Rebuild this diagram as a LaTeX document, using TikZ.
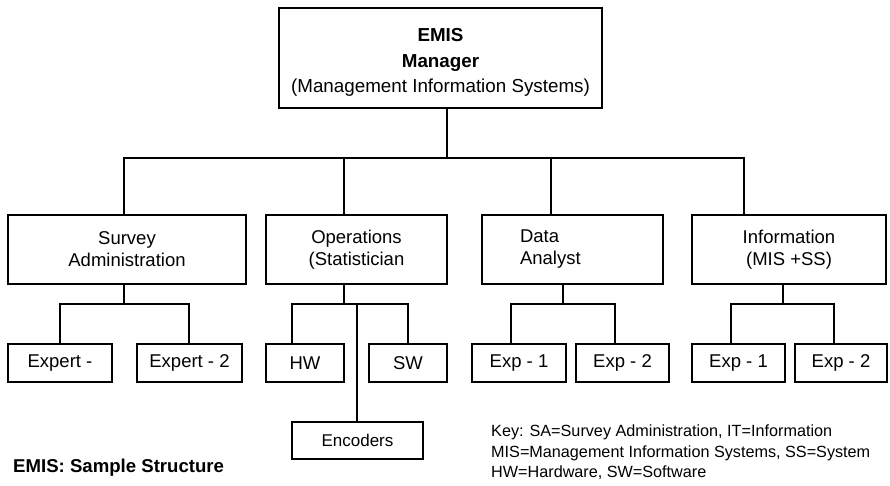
\documentclass[tikz,border=0pt]{standalone}
\usepackage{fontspec}
\setmainfont{Liberation Sans}

\begin{document}
\begin{tikzpicture}[x=1pt,y=-1pt,
    box/.style={draw, line width=1.2pt, inner sep=0pt, align=center,
                font=\fontsize{18.5}{22}\selectfont},
    unit/.style={box, minimum height=69pt},
    leaf/.style={box, minimum height=38pt},
    link/.style={line width=1.2pt}]
    \useasboundingbox (0,0) rectangle (890,486);

    % manager
    \node[box, minimum width=323pt, minimum height=100pt, font=\fontsize{18.8}{25.5}\selectfont]
        (mgr) at (440.5,58) {\rule{0pt}{22pt}\textbf{EMIS}\\\textbf{Manager}\\(Management Information Systems)};

    % units
    \node[unit, minimum width=238pt] (survey)  at (127,249.5)   {Survey\\Administration};
    \node[unit, minimum width=181pt] (ops)     at (356.5,249.5) {Operations\\(Statistician};
    \node[unit, text width=105pt, inner xsep=38pt, align=left]
                                     (analyst) at (572.5,249.5) {Data\\Analyst};
    \node[unit, minimum width=194pt] (info)    at (789,249.5)   {Information\\(MIS +SS)};

    % staff
    \node[leaf, minimum width=104pt] (expA) at (60,363)    {Expert -};
    \node[leaf, minimum width=105pt] (expB) at (189.5,363) {Expert - 2};
    \node[leaf, minimum width=78pt]  (hw)   at (305,363)   {HW};
    \node[leaf, minimum width=78pt]  (sw)   at (408,363)   {SW};
    \node[leaf, minimum width=94pt]  (daA)  at (519,363)   {Exp - 1};
    \node[leaf, minimum width=93pt]  (daB)  at (622.5,363) {Exp - 2};
    \node[leaf, minimum width=93pt]  (inA)  at (738.5,363) {Exp - 1};
    \node[leaf, minimum width=92pt]  (inB)  at (841,363)   {Exp - 2};
    \node[box, minimum width=131pt, minimum height=37pt, font=\fontsize{17}{20}\selectfont]
        (enc) at (357.5,440.5) {Encoders};

    % connectors
    \coordinate (bus)   at (447,158);
    \coordinate (sabus) at (124,304);
    \coordinate (opbus) at (344,304);
    \coordinate (dabus) at (563,304);
    \coordinate (inbus) at (783,304);

    \draw[link] (mgr.south -| bus) -- (bus);
    \draw[link] (survey.north -| 124,0) |- (bus);
    \draw[link] (ops.north -| 344,0) |- (bus);
    \draw[link] (analyst.north -| 551,0) |- (bus);
    \draw[link] (info.north -| 744,0) |- (bus);

    \draw[link] (survey.south -| sabus) -- (sabus);
    \draw[link] (expA.north) |- (sabus);
    \draw[link] (expB.north -| 189,0) |- (sabus);

    \draw[link] (ops.south -| opbus) -- (opbus);
    \draw[link] (hw.north -| 292,0) |- (opbus);
    \draw[link] (sw.north) |- (opbus);
    \draw[link] (enc.north -| 357,0) |- (opbus);

    \draw[link] (analyst.south -| dabus) -- (dabus);
    \draw[link] (daA.north -| 511,0) |- (dabus);
    \draw[link] (daB.north -| 615,0) |- (dabus);

    \draw[link] (info.south -| inbus) -- (inbus);
    \draw[link] (inA.north -| 731,0) |- (inbus);
    \draw[link] (inB.north -| 834,0) |- (inbus);

    % key and caption
    \node[anchor=north west, inner sep=0pt, align=left, font=\fontsize{16.2}{20.3}\selectfont]
        (key) at (491,425) {Key: SA=Survey Administration, IT=Information\\
        MIS=Management Information Systems, SS=System\\
        HW=Hardware, SW=Software};
    \node[anchor=base west, inner sep=0pt, font=\fontsize{18.6}{21}\selectfont\bfseries]
        (title) at (13,472) {EMIS: Sample Structure};
\end{tikzpicture}
\end{document}
